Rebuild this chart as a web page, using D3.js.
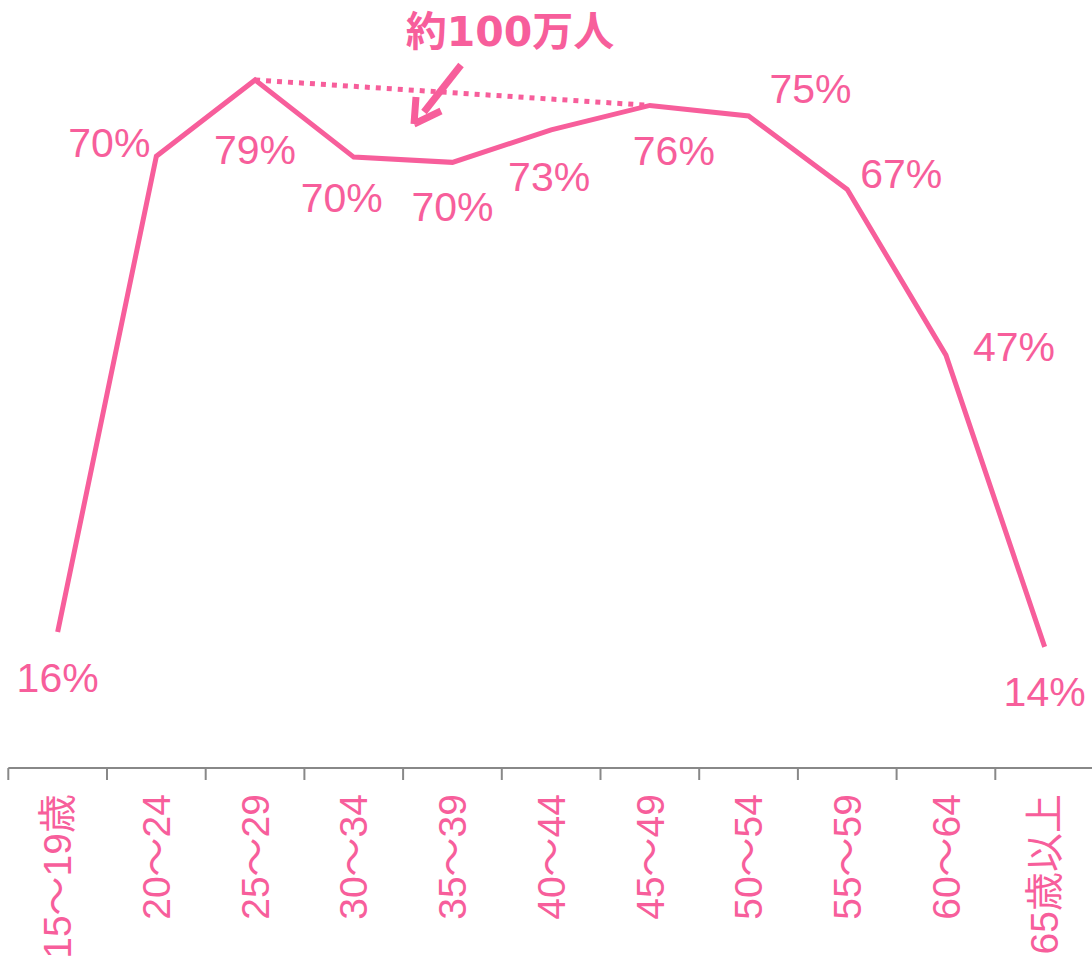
<!DOCTYPE html>
<html><head><meta charset="utf-8">
<script src="https://cdn.jsdelivr.net/npm/d3@7"></script>
<style>body{margin:0;background:#fff}svg{display:block}</style>
</head><body>
<svg id="c" width="1092" height="958"></svg>
<script>
const categories = ["15～19歳","20～24","25～29","30～34","35～39","40～44","45～49","50～54","55～59","60～64","65歳以上"];
const values = [16.0, 70.3, 79.0, 70.2, 69.6, 73.3, 76.1, 74.9, 66.5, 47.6, 14.3];
const valueLabels = ["16%","70%","79%","70%","70%","73%","76%","75%","67%","47%","14%"];
const annotationText = "約100万人";
const bracketFrom = 2, bracketTo = 6;
// label placement offsets (px) relative to each point
const labelOffsets = [[0,60],[-47,1],[0,84],[-12,55],[0,59],[-2,61],[24,60],[62,-13],[54,-2],[68,6],[0,59]];

const pink = "#f75e9b";
const svg = d3.select("#c");
const x = d3.scaleBand().domain(categories).range([8.3, 1094]).padding(0);
const y = d3.scaleLinear().domain([0, 100]).range([772.2, 772.2 - 876.2]);
const cx = d => x(d) + x.bandwidth()/2;
const axisY = 768;

// axis
const ax = svg.append("g").attr("transform", `translate(0,${axisY})`)
  .call(d3.axisBottom(x).tickSize(0).tickFormat(""));
ax.select(".domain").attr("stroke", "#888").attr("stroke-width", 2).attr("d", "M8.3,0H1092");
ax.selectAll(".tick").remove();
svg.append("g").selectAll("line").data(categories).join("line")
  .attr("x1", d => x(d)).attr("x2", d => x(d))
  .attr("y1", axisY).attr("y2", axisY + 12)
  .attr("stroke", "#888").attr("stroke-width", 2);

// axis labels
svg.append("g").selectAll("text").data(categories).join("text")
  .attr("transform", d => `translate(${cx(d)},794) rotate(-90)`)
  .attr("text-anchor", "end").attr("dy", "0.35em")
  .attr("font-family", "'Liberation Sans','Noto Sans CJK JP',sans-serif")
  .attr("font-size", 39).attr("fill", pink)
  .text(d => d);

// line
const pts = categories.map((c, i) => [cx(c), y(values[i])]);
svg.append("path").attr("d", d3.line()(pts))
  .attr("fill", "none").attr("stroke", pink).attr("stroke-width", 5)
  .attr("stroke-linejoin", "miter");

// dotted bracket
svg.append("line")
  .attr("x1", pts[bracketFrom][0]).attr("y1", pts[bracketFrom][1])
  .attr("x2", pts[bracketTo][0]).attr("y2", pts[bracketTo][1])
  .attr("stroke", pink).attr("stroke-width", 5).attr("stroke-dasharray", "5,6");

// value labels
svg.append("g").selectAll("text").data(valueLabels).join("text")
  .attr("x", (d, i) => pts[i][0] + labelOffsets[i][0])
  .attr("y", (d, i) => pts[i][1] + labelOffsets[i][1])
  .attr("text-anchor", "middle")
  .attr("font-family", "'Liberation Sans',Arial,sans-serif")
  .attr("font-size", 41).attr("fill", pink)
  .text(d => d);

// annotation
svg.append("text").attr("x", 510).attr("y", 46).attr("text-anchor", "middle")
  .attr("font-family", "'DejaVu Sans','Noto Sans CJK JP',sans-serif")
  .attr("font-weight", "bold").attr("font-size", 41).attr("fill", pink)
  .text(annotationText);
// arrow
svg.append("line").attr("x1", 461).attr("y1", 65).attr("x2", 424).attr("y2", 112)
  .attr("stroke", pink).attr("stroke-width", 7);
svg.append("path").attr("d", "M414,124 L416,97 M414,124 L441,111")
  .attr("stroke", pink).attr("stroke-width", 7).attr("fill", "none").attr("stroke-linecap", "butt");
</script>
</body></html>
